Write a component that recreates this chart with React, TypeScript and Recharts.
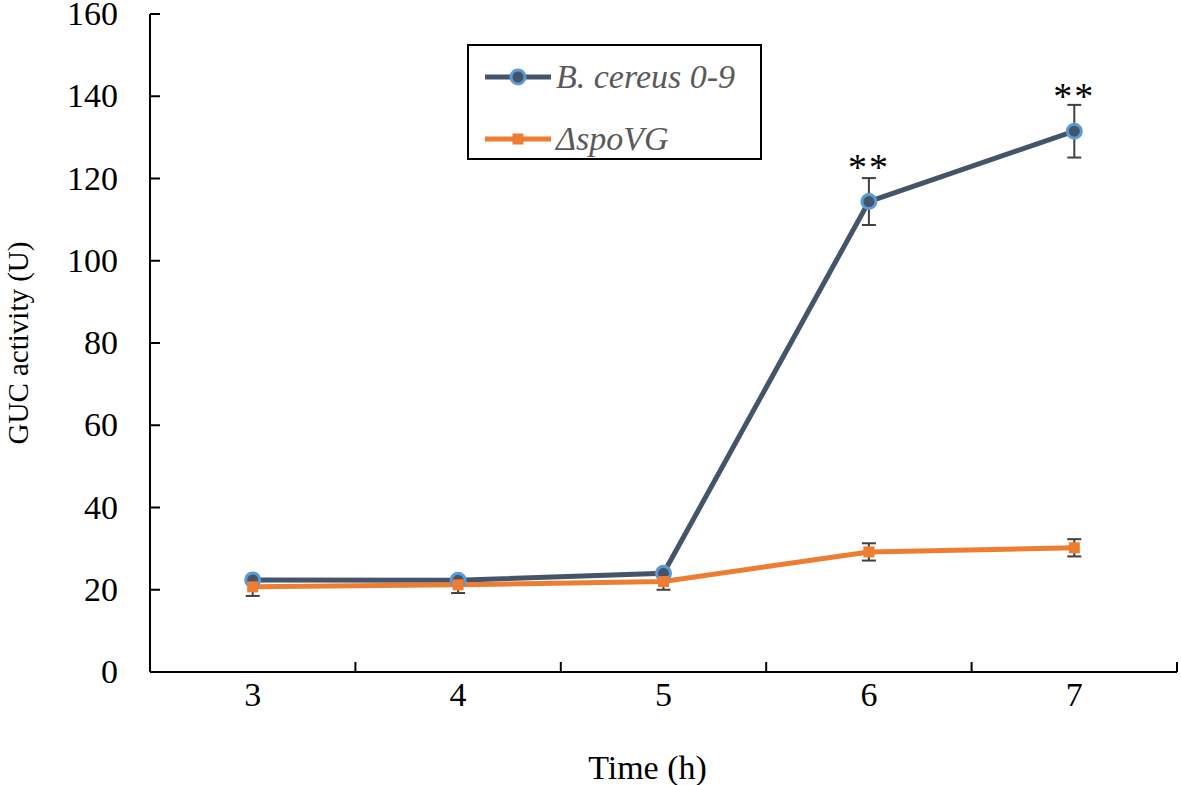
import {
  ComposedChart,
  Line,
  XAxis,
  YAxis,
  ErrorBar,
  LabelList,
  Legend,
  Label,
} from 'recharts'

const hours = [3, 4, 5, 6, 7]
const cereusValues = [22.4, 22.3, 24.0, 114.4, 131.5]
const cereusErrors = [0.8, 0.8, 0.8, 5.7, 6.4]
const spoVGValues = [20.7, 21.2, 22.0, 29.2, 30.2]
const spoVGErrors = [2.2, 2.0, 2.0, 2.1, 2.1]
const significance = ['', '', '', '**', '**']
const yTicks = [0, 20, 40, 60, 80, 100, 120, 140, 160]

const FONT = '"Liberation Serif", "Times New Roman", serif'
const BLUE = '#44546A'
const BLUE_EDGE = '#5B9BD5'
const ORANGE = '#ED7D31'

const data = hours.map((h, i) => ({
  hour: h,
  cereus: cereusValues[i],
  cereusErr: cereusErrors[i],
  spoVG: spoVGValues[i],
  spoVGErr: spoVGErrors[i],
  sig: significance[i],
}))

// category labels at whole hours, divider ticks halfway between them
const xTicks = [hours[0] - 0.5, ...hours.flatMap((h) => [h, h + 0.5])]

function XTick(props: any) {
  const { x, y, payload } = props
  const v = payload.value
  if (Number.isInteger(v)) {
    return (
      <text x={x} y={y + 34} textAnchor="middle" fontSize={34} fontFamily={FONT} fill="#000">
        {v}
      </text>
    )
  }
  return <line x1={x} x2={x} y1={y} y2={y - 10} stroke="#000" strokeWidth={2} />
}

function YTick(props: any) {
  const { x, y, payload } = props
  return (
    <g>
      <line x1={x} x2={x + 10} y1={y} y2={y} stroke="#000" strokeWidth={2} />
      <text x={x - 32} y={y + 11} textAnchor="end" fontSize={34} fontFamily={FONT} fill="#000">
        {payload.value}
      </text>
    </g>
  )
}

function CircleDot(props: any) {
  const { cx, cy, index } = props
  return <circle key={`c-${index}`} cx={cx} cy={cy} r={7} fill={BLUE} stroke={BLUE_EDGE} strokeWidth={3} />
}

function SquareDot(props: any) {
  const { cx, cy, index } = props
  return <rect key={`s-${index}`} x={cx - 5.5} y={cy - 5.5} width={11} height={11} fill={ORANGE} />
}

function SigLabel(props: any) {
  const { x, y, value } = props
  if (!value) return null
  return (
    <text x={x} y={y - 22} textAnchor="middle" fontSize={38} fontFamily={FONT} letterSpacing={2} fill="#000">
      {value}
    </text>
  )
}

function YLabel(props: any) {
  const { viewBox } = props
  const cx = viewBox.x + 18
  const cy = viewBox.y + viewBox.height / 2
  return (
    <text
      x={cx}
      y={cy}
      transform={`rotate(-90 ${cx} ${cy})`}
      textAnchor="middle"
      dominantBaseline="central"
      fontSize={29}
      fontFamily={FONT}
      fill="#000"
    >
      GUC activity (U)
    </text>
  )
}

function LegendBox() {
  const rows = [
    { name: 'B. cereus 0-9', kind: 'circle' },
    { name: 'ΔspoVG', kind: 'square' },
  ]
  return (
    <div
      style={{
        width: 295,
        height: 116,
        border: '2px solid #000',
        boxSizing: 'border-box',
        background: '#fff',
        paddingTop: 6,
      }}
    >
      {rows.map((r) => (
        <div key={r.name} style={{ display: 'flex', alignItems: 'center', height: 50, marginBottom: 12 }}>
          <svg width={66} height={20} style={{ marginLeft: 16, marginRight: 5 }}>
            <line x1={0} x2={66} y1={10} y2={10} stroke={r.kind === 'circle' ? BLUE : ORANGE} strokeWidth={5} />
            {r.kind === 'circle' ? (
              <circle cx={33} cy={10} r={7} fill={BLUE} stroke={BLUE_EDGE} strokeWidth={3} />
            ) : (
              <rect x={27.5} y={4.5} width={11} height={11} fill={ORANGE} />
            )}
          </svg>
          <span style={{ fontFamily: FONT, fontStyle: 'italic', fontSize: 34, color: '#595959', lineHeight: 1 }}>
            {r.name}
          </span>
        </div>
      ))}
    </div>
  )
}

export default function App() {
  return (
    <div style={{ position: 'absolute', left: 0, top: 0, background: '#fff' }}>
      <ComposedChart width={1181} height={785} data={data} margin={{ top: 14, right: 4, left: 0, bottom: 0 }}>
        <XAxis
          dataKey="hour"
          type="number"
          domain={[hours[0] - 0.5, hours[hours.length - 1] + 0.5]}
          ticks={xTicks}
          interval={0}
          height={113}
          tickSize={0}
          tickMargin={0}
          tickLine={false}
          tick={<XTick />}
          axisLine={{ stroke: '#000', strokeWidth: 2 }}
        >
          <Label
            value="Time (h)"
            position="insideBottom"
            offset={6}
            dx={-16}
            style={{ fontFamily: FONT, fontSize: 34, fill: '#000' }}
          />
        </XAxis>
        <YAxis
          type="number"
          domain={[0, 160]}
          ticks={yTicks}
          interval={0}
          width={150}
          tickSize={0}
          tickMargin={0}
          tickLine={false}
          tick={<YTick />}
          axisLine={{ stroke: '#000', strokeWidth: 2 }}
        >
          <Label content={<YLabel />} />
        </YAxis>
        <Legend
          layout="horizontal"
          verticalAlign="middle"
          align="center"
          content={<LegendBox />}
          wrapperStyle={{ position: 'absolute', left: 467, top: 44, width: 295, height: 116 }}
        />
        <Line
          type="linear"
          dataKey="cereus"
          name="B. cereus 0-9"
          stroke={BLUE}
          strokeWidth={5}
          dot={<CircleDot />}
          activeDot={false}
          isAnimationActive={false}
        >
          <ErrorBar dataKey="cereusErr" width={7} stroke="#404040" strokeWidth={2} direction="y" />
          <LabelList dataKey="sig" content={<SigLabel />} />
        </Line>
        <Line
          type="linear"
          dataKey="spoVG"
          name="ΔspoVG"
          stroke={ORANGE}
          strokeWidth={5}
          dot={<SquareDot />}
          activeDot={false}
          isAnimationActive={false}
        >
          <ErrorBar dataKey="spoVGErr" width={7} stroke="#404040" strokeWidth={2} direction="y" />
        </Line>
      </ComposedChart>
    </div>
  )
}
